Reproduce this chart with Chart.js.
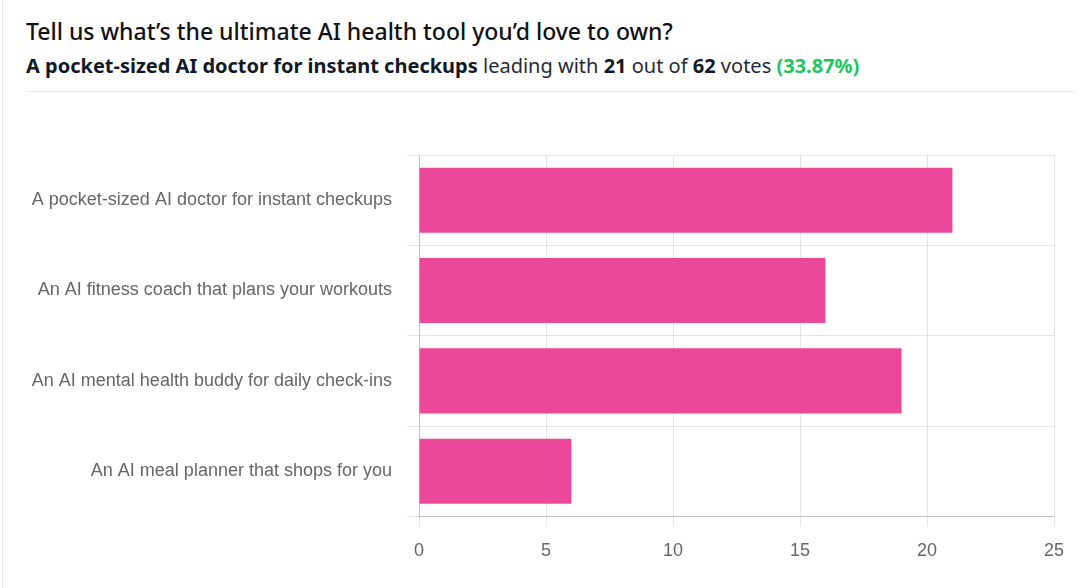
<!DOCTYPE html>
<html>
<head>
<meta charset="utf-8">
<script src="https://cdn.jsdelivr.net/npm/chart.js"></script>
<style>
  body{margin:0;width:1085px;height:588px;overflow:hidden;background:#fff;font-family:"Noto Sans","Open Sans",sans-serif;}
  #card{position:absolute;left:2px;top:0;width:1083px;height:588px;border-left:1px solid #e5e7eb;}
  #titulo{position:absolute;left:26px;top:15px;font-size:23px;font-weight:500;color:#111;white-space:nowrap;}
  #sub{position:absolute;left:26px;top:52px;font-size:20px;color:#1f2937;white-space:nowrap;}
  #sub b{color:#111827;}
  #sub .verde{color:#22c55e;font-weight:700;}
  #linea{position:absolute;left:26px;top:91px;width:1049px;height:1px;background:#ececec;}
  #caja{position:absolute;left:0;top:100px;width:1085px;height:488px;}
</style>
</head>
<body>
<div id="card"></div>
<div id="titulo">Tell us what’s the ultimate AI health tool you’d love to own?</div>
<div id="sub"><b>A pocket-sized AI doctor for instant checkups</b> leading with <b>21</b> out of <b>62</b> votes <span class="verde">(33.87%)</span></div>
<div id="linea"></div>
<div id="caja"><canvas id="grafica"></canvas></div>
<script>
var opciones = [
  "A pocket-sized AI doctor for instant checkups",
  "An AI fitness coach that plans your workouts",
  "An AI mental health buddy for daily check-ins",
  "An AI meal planner that shops for you"
];
var votos = [21, 16, 19, 6];
var ejeMax = 25;
var paso = 5;

var ctx = document.getElementById("grafica").getContext("2d");
var chart = new Chart(ctx, {
  type: "bar",
  data: {
    labels: opciones,
    datasets: [{
      label: "Votes",
      data: votos,
      backgroundColor: "#ec4899",
      borderWidth: 0
    }]
  },
  options: {
    indexAxis: "y",
    responsive: true,
    maintainAspectRatio: false,
    animation: false,
    layout: { padding: { top: 55, right: 31, bottom: 12, left: 0 } },
    plugins: { legend: { display: false }, tooltip: { enabled: false } },
    scales: {
      x: {
        min: 0,
        max: ejeMax,
        ticks: { stepSize: paso, color: "#666", padding: 14, font: { family: "'Liberation Sans', Arial", size: 18 } },
        grid: { color: "rgba(0,0,0,0.1)", tickLength: 10 },
        border: { color: "rgba(0,0,0,0.15)" }
      },
      y: {
        afterFit: function(s){ s.width = 419; },
        ticks: { color: "#666", padding: 15, font: { family: "'Liberation Sans', Arial", size: 18 } },
        grid: { color: "rgba(0,0,0,0.1)", tickLength: 12 },
        border: { color: "rgba(0,0,0,0.15)" }
      }
    }
  }
});
</script>
</body>
</html>
